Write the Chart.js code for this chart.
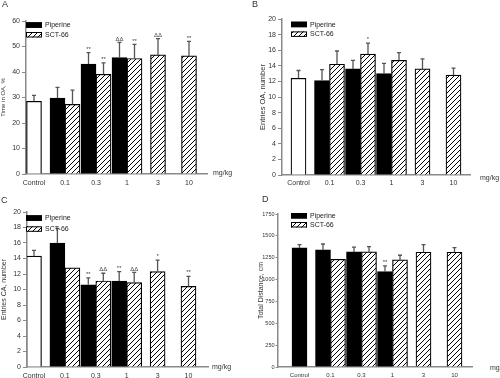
<!DOCTYPE html>
<html><head><meta charset="utf-8">
<script src="https://cdn.jsdelivr.net/npm/chart.js@4.4.1/dist/chart.umd.min.js"></script>
<style>
html,body{margin:0;padding:0;background:#fff;}
#wrap{position:relative;width:500px;height:378px;overflow:hidden;background:#fff;}
canvas{position:absolute;}
.lab{position:absolute;font-family:'Liberation Sans',Arial,sans-serif;font-size:9px;color:#333;line-height:1;}
</style></head><body>
<div id="wrap">
<canvas id="cA" width="250" height="189" style="left:0;top:0"></canvas>
<canvas id="cB" width="250" height="189" style="left:250px;top:0"></canvas>
<canvas id="cC" width="250" height="189" style="left:0;top:189px"></canvas>
<canvas id="cD" width="250" height="189" style="left:250px;top:189px"></canvas>
<div class="lab" style="left:2px;top:0px">A</div>
<div class="lab" style="left:252px;top:0px">B</div>
<div class="lab" style="left:1px;top:196px">C</div>
<div class="lab" style="left:262px;top:195px">D</div>
</div>
<script>
// ---------- data ----------
const categories = ['Control', '0.1', '0.3', '1', '3', '10'];
const seriesNames = ['Piperine', 'SCT-66'];
const unitLabel = 'mg/kg';

// Panel A: Time in OA, %
const aTicks = [0, 10, 20, 30, 40, 50, 60];
const aControl = [28.5, null, null, null, null, null];
const aControlErr = [2.3, null, null, null, null, null];
const aPiperine = [null, 29.8, 43.1, 45.7, null, null];
const aPiperineErr = [null, 4.2, 4.5, 5.9, null, null];
const aPiperineMarks = ['', '', '**', 'ΔΔ', '', ''];
const aSct66 = [null, 27.3, 39.1, 45.3, 46.7, 46.3];
const aSct66Err = [null, 5.6, 4.5, 5.5, 6.4, 5.7];
const aSct66Marks = ['', '', '**', '**', 'ΔΔ', '**'];

// Panel B: Entries OA, number
const bTicks = [0, 2, 4, 6, 8, 10, 12, 14, 16, 18, 20];
const bControl = [12.4, null, null, null, null, null];
const bControlErr = [1.0, null, null, null, null, null];
const bPiperine = [null, 12.1, 13.6, 13.0, null, null];
const bPiperineErr = [null, 1.4, 1.1, 1.3, null, null];
const bPiperineMarks = ['', '', '', '', '', ''];
const bSct66 = [null, 14.2, 15.5, 14.7, 13.6, 12.8];
const bSct66Err = [null, 1.7, 1.4, 1.0, 1.3, 0.9];
const bSct66Marks = ['', '', '*', '', '', ''];

// Panel C: Entries CA, number
const cTicks = [0, 2, 4, 6, 8, 10, 12, 14, 16, 18, 20];
const cControl = [14.3, null, null, null, null, null];
const cControlErr = [0.75, null, null, null, null, null];
const cPiperine = [null, 16.0, 10.6, 11.1, null, null];
const cPiperineErr = [null, 1.9, 0.9, 1.2, null, null];
const cPiperineMarks = ['', '', '**', '**', '', ''];
const cSct66 = [null, 12.8, 11.1, 10.9, 12.3, 10.4];
const cSct66Err = [null, null, 1.0, 1.3, 1.5, 1.3];
const cSct66Marks = ['', '', 'ΔΔ', 'ΔΔ', '*', '**'];

// Panel D: Total Distance, cm
const dTicks = [0, 250, 500, 750, 1000, 1250, 1500, 1750];
const dControl = [1362, null, null, null, null, null];
const dControlErr = [38, null, null, null, null, null];
const dPiperine = [null, 1339, 1316, 1091, null, null];
const dPiperineErr = [null, 68, 55, 65, null, null];
const dPiperineMarks = ['', '', '', '**', '', ''];
const dSct66 = [null, 1232, 1316, 1225, 1313, 1313];
const dSct66Err = [null, null, 60, 53, 87, 52];
const dSct66Marks = ['', '', '', '', '', ''];

// ---------- styling helpers ----------
const FONT = "'Liberation Sans', Arial, sans-serif";
Chart.defaults.font.family = FONT;
Chart.defaults.font.size = 7;
Chart.defaults.color = '#333';
const axisColor = '#8a8a8a';

function makeHatch() {
  const c = document.createElement('canvas');
  c.width = 5; c.height = 5;
  const g = c.getContext('2d');
  g.fillStyle = '#fff'; g.fillRect(0, 0, 5, 5);
  g.strokeStyle = '#000'; g.lineWidth = 1;
  g.beginPath();
  g.moveTo(0, 5); g.lineTo(5, 0);
  g.moveTo(-1, 1); g.lineTo(1, -1);
  g.moveTo(4, 6); g.lineTo(6, 4);
  g.stroke();
  return g.createPattern(c, 'repeat');
}
const hatch = makeHatch();

// shift category positions so bars sit where the reference puts them
const catShift = {
  id: 'catShift',
  afterLayout(chart, args, o) {
    const s = chart.scales.x;
    const W = s.right - s.left;
    s._valueRange = W / o.step;
    s._startValue = -o.first / o.step;
  }
};

const errorBars = {
  id: 'errorBars',
  afterDatasetsDraw(chart) {
    const ctx = chart.ctx, y = chart.scales.y;
    ctx.save();
    chart.data.datasets.forEach((ds, di) => {
      const meta = chart.getDatasetMeta(di);
      ds.data.forEach((v, i) => {
        if (v == null) return;
        const el = meta.data[i];
        const e = ds.errors ? ds.errors[i] : null;
        let top = el.y;
        if (e != null) {
          top = y.getPixelForValue(v + e);
          ctx.strokeStyle = '#555'; ctx.lineWidth = 1.3;
          ctx.beginPath();
          ctx.moveTo(el.x, el.y); ctx.lineTo(el.x, top);
          ctx.moveTo(el.x - 2, top); ctx.lineTo(el.x + 2, top);
          ctx.stroke();
        }
        const mk = ds.marks ? ds.marks[i] : '';
        if (mk) {
          ctx.fillStyle = '#444';
          ctx.font = '6px ' + FONT;
          ctx.textAlign = 'center'; ctx.textBaseline = 'bottom';
          ctx.fillText(mk, el.x, top - 0.5);
        }
      });
    });
    ctx.restore();
  }
};

const deco = {
  id: 'deco',
  afterDraw(chart, args, o) {
    const ctx = chart.ctx, a = chart.chartArea;
    ctx.save();
    ctx.font = '7px ' + FONT;
    chart.data.datasets.filter(d => d.inLegend !== false).forEach((d, k) => {
      const x = a.left + o.legend.dx, yy = a.top + o.legend.dy + k * o.legend.gap;
      ctx.fillStyle = d.backgroundColor;
      ctx.fillRect(x, yy, 16, 5.5);
      ctx.strokeStyle = '#000'; ctx.lineWidth = 1;
      ctx.strokeRect(x + 0.5, yy + 0.5, 15, 4.5);
      ctx.fillStyle = '#222'; ctx.textAlign = 'left'; ctx.textBaseline = 'middle';
      ctx.fillText(d.label, x + 19, yy + 3);
    });
    ctx.fillStyle = '#333'; ctx.textAlign = 'left'; ctx.textBaseline = 'middle';
    ctx.fillText(unitLabel, a.right + o.unit.dx, a.bottom + o.unit.dy);
    ctx.restore();
  }
};

const panels = [
  { id: 'cA', ticks: aTicks, title: 'Time in OA, %', controlFill: '#fff',
    control: aControl, controlErr: aControlErr,
    pip: aPiperine, pipErr: aPiperineErr, pipMarks: aPiperineMarks,
    sct: aSct66, sctErr: aSct66Err, sctMarks: aSct66Marks,
    L: { padLeft: 0, axisX: 26, top: 21, right: 207, bottom: 174, first: 8, step: 31, titleSize: 6, xPad: 4.5,
         yFont: 7, xFont: 7, tickLen: 4, yPad: 2,
         legend: { dx: 0, dy: 1.3, gap: 9.7 }, unit: { dx: 6, dy: -1 } } },
  { id: 'cB', ticks: bTicks, title: 'Entries OA, number', controlFill: '#fff',
    control: bControl, controlErr: bControlErr,
    pip: bPiperine, pipErr: bPiperineErr, pipMarks: bPiperineMarks,
    sct: bSct66, sctErr: bSct66Err, sctMarks: bSct66Marks,
    L: { padLeft: 8, axisX: 32, top: 19, right: 220, bottom: 175, first: 16.5, step: 31, titleSize: 7.5, xPad: 3.5,
         yFont: 7, xFont: 7, tickLen: 4, yPad: 2,
         legend: { dx: 9, dy: 2.7, gap: 9.7 }, unit: { dx: 10, dy: 3 } } },
  { id: 'cC', ticks: cTicks, title: 'Entries CA, number', controlFill: '#fff',
    control: cControl, controlErr: cControlErr,
    pip: cPiperine, pipErr: cPiperineErr, pipMarks: cPiperineMarks,
    sct: cSct66, sctErr: cSct66Err, sctMarks: cSct66Marks,
    L: { padLeft: 0, axisX: 27, top: 23, right: 208, bottom: 178, first: 7, step: 30.9, titleSize: 7, xPad: 4.5,
         yFont: 7, xFont: 7, tickLen: 4, yPad: 2,
         legend: { dx: -1, dy: 3.3, gap: 11 }, unit: { dx: 4, dy: 0 } } },
  { id: 'cD', ticks: dTicks, title: 'Total Distance, cm', controlFill: '#000',
    control: dControl, controlErr: dControlErr,
    pip: dPiperine, pipErr: dPiperineErr, pipMarks: dPiperineMarks,
    sct: dSct66, sctErr: dSct66Err, sctMarks: dSct66Marks,
    L: { padLeft: 7, axisX: 28, top: 25, right: 222, bottom: 178, first: 21.5, step: 31, titleSize: 7, xPad: 5,
         yFont: 5.5, xFont: 6, tickLen: 2.5, yPad: 1,
         legend: { dx: 13, dy: -1, gap: 9 }, unit: { dx: 18, dy: 1.5 } } }
];

panels.forEach(p => {
  const L = p.L;
  const canvas = document.getElementById(p.id);
  const H = canvas.height, Wc = canvas.width;
  new Chart(canvas, {
    type: 'bar',
    data: {
      labels: categories,
      datasets: [
        { label: 'Control', data: p.control, errors: p.controlErr, inLegend: false,
          backgroundColor: p.controlFill, borderColor: '#000', borderWidth: 1.2 },
        { label: seriesNames[0], data: p.pip, errors: p.pipErr, marks: p.pipMarks,
          backgroundColor: '#000', borderColor: '#000', borderWidth: 1.2 },
        { label: seriesNames[1], data: p.sct, errors: p.sctErr, marks: p.sctMarks,
          backgroundColor: hatch, borderColor: '#000', borderWidth: 1.2 }
      ]
    },
    options: {
      responsive: false, animation: false, devicePixelRatio: 1,
      layout: { padding: { left: L.padLeft, top: L.top, right: Wc - L.right, bottom: 0 } },
      datasets: { bar: { barThickness: 15, skipNull: true, grouped: true } },
      plugins: {
        legend: { display: false }, tooltip: { enabled: false },
        catShift: { first: L.first, step: L.step },
        deco: { legend: L.legend, unit: L.unit }
      },
      scales: {
        x: {
          type: 'category', offset: true,
          grid: { display: false, drawTicks: false },
          border: { display: true, color: axisColor, width: 1.5 },
          ticks: { font: { size: L.xFont }, color: '#333', padding: L.xPad, maxRotation: 0, autoSkip: false },
          afterFit(s) { s.height = H - L.bottom; }
        },
        y: {
          min: p.ticks[0], max: p.ticks[p.ticks.length - 1],
          grid: { drawOnChartArea: false, drawTicks: true, tickLength: L.tickLen, color: axisColor, lineWidth: 1 },
          border: { display: true, color: axisColor, width: 1.5 },
          ticks: { stepSize: p.ticks[1] - p.ticks[0], font: { size: L.yFont }, color: '#333', padding: L.yPad,
                   callback: (v) => String(v) },
          title: { display: true, text: p.title, font: { size: L.titleSize }, color: '#333', padding: { top: 0, bottom: 0 } },
          afterFit(s) { s.width = L.axisX - L.padLeft; }
        }
      }
    },
    plugins: [catShift, errorBars, deco]
  });
});
</script>
</body></html>
